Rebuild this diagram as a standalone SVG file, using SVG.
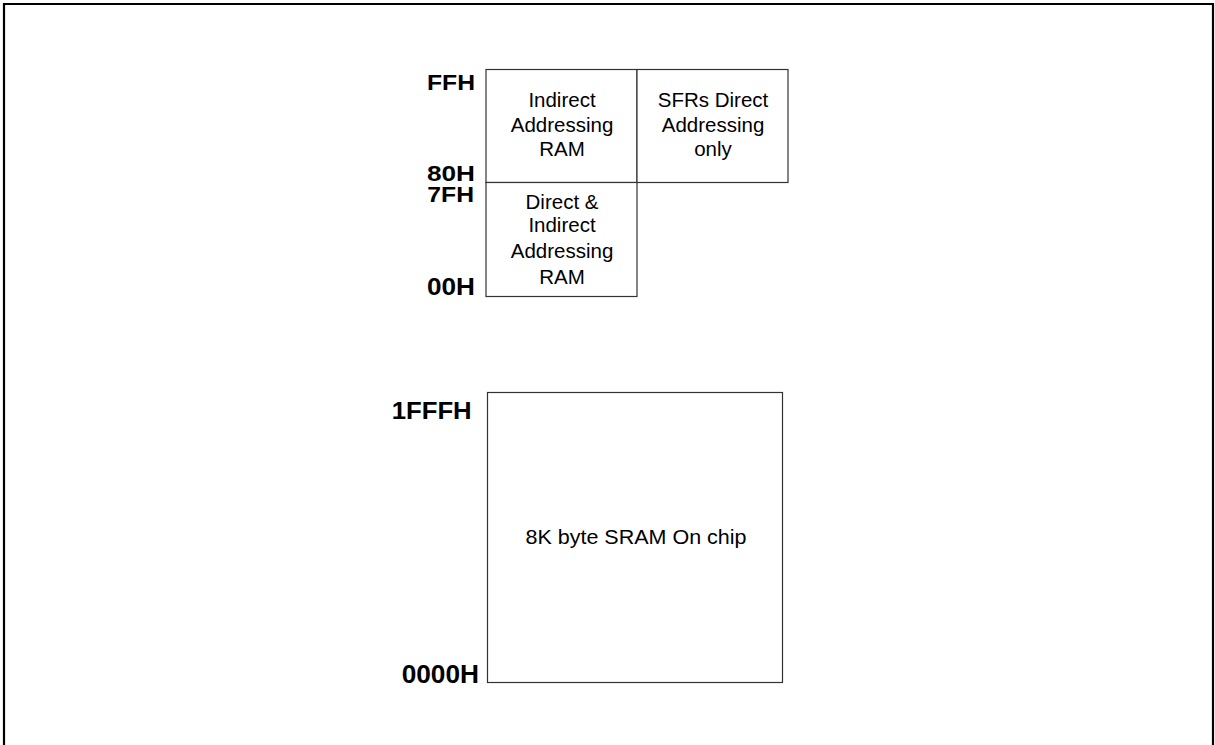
<svg xmlns="http://www.w3.org/2000/svg" width="1215" height="745" viewBox="0 0 1215 745">
<style>
.box{fill:#fff;stroke:#333;stroke-width:1.2}
.lbl{font-family:"Liberation Sans",Arial,sans-serif;font-weight:bold;fill:#000}
.txt{font-family:"Liberation Sans",Arial,sans-serif;font-size:20.5px;fill:#000;text-anchor:middle}
</style>
<rect x="0" y="0" width="1215" height="745" fill="#fff"/>
<path d="M4,745 V4 H1213 V745" fill="none" stroke="#000" stroke-width="2.2"/>
<g id="connectors"></g>
<g id="indirect-ram">
<rect class="box" x="486" y="69.5" width="151" height="113"/>
<text class="txt" x="562" y="107">Indirect</text>
<text class="txt" x="562" y="132">Addressing</text>
<text class="txt" x="562" y="156">RAM</text>
</g>
<g id="sfrs">
<rect class="box" x="637" y="69.5" width="151" height="113"/>
<text class="txt" x="713" y="107">SFRs Direct</text>
<text class="txt" x="713" y="132">Addressing</text>
<text class="txt" x="713" y="156">only</text>
</g>
<g id="direct-indirect-ram">
<rect class="box" x="486" y="182.5" width="151" height="114"/>
<text class="txt" x="562" y="208.5">Direct &amp;</text>
<text class="txt" x="562" y="232">Indirect</text>
<text class="txt" x="562" y="257.5">Addressing</text>
<text class="txt" x="562" y="284">RAM</text>
</g>
<g id="sram">
<rect class="box" x="487.5" y="392.5" width="295" height="290"/>
<text class="txt" x="636" y="543.5" textLength="221" lengthAdjust="spacingAndGlyphs">8K byte SRAM On chip</text>
</g>
<g id="labels">
<text class="lbl" x="427" y="89.5" font-size="22" textLength="48" lengthAdjust="spacingAndGlyphs">FFH</text>
<text class="lbl" x="427" y="180.5" font-size="22.5" textLength="48" lengthAdjust="spacingAndGlyphs">80H</text>
<text class="lbl" x="427.3" y="201.5" font-size="22.5" textLength="46.7" lengthAdjust="spacingAndGlyphs">7FH</text>
<text class="lbl" x="427" y="295" font-size="24" textLength="48" lengthAdjust="spacingAndGlyphs">00H</text>
<text class="lbl" x="391.7" y="419.3" font-size="24.5" textLength="80" lengthAdjust="spacingAndGlyphs">1FFFH</text>
<text class="lbl" x="401.7" y="682.7" font-size="26.5" textLength="77.3" lengthAdjust="spacingAndGlyphs">0000H</text>
</g>
</svg>
